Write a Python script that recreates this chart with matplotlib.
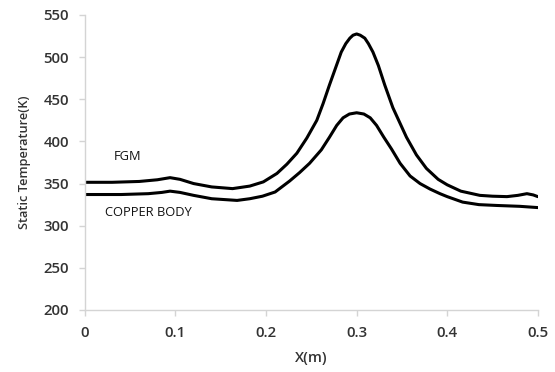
import matplotlib
matplotlib.use("Agg")
import matplotlib.pyplot as plt

plt.rcParams['font.family'] = ['Open Sans', 'DejaVu Sans']

fgm_x = [0, 0.03, 0.06, 0.08, 0.094, 0.105, 0.12, 0.14, 0.163, 0.182, 0.197, 0.212,
         0.223, 0.234, 0.245, 0.256, 0.263, 0.27, 0.277, 0.283, 0.288, 0.2925, 0.296,
         0.3, 0.304, 0.309, 0.313, 0.318, 0.324, 0.331, 0.34, 0.355, 0.366, 0.377,
         0.39, 0.4, 0.415, 0.436, 0.45, 0.466, 0.478, 0.488, 0.495, 0.5]
fgm_t = [351.5, 351.5, 352.5, 354.5, 357, 355, 350, 346, 344, 347, 352, 362,
         373, 386, 404, 425, 445, 467, 488, 506, 516, 522.5, 526,
         527.5, 526, 522.5, 516, 506, 490, 467, 440, 405, 384, 368,
         355, 348.5, 341, 336, 335, 334.5, 336, 338, 336.5, 334.5]

cu_x = [0, 0.04, 0.07, 0.085, 0.094, 0.105, 0.12, 0.14, 0.168, 0.182, 0.196, 0.21,
        0.226, 0.237, 0.248, 0.261, 0.27, 0.278, 0.285, 0.292, 0.3, 0.308, 0.315,
        0.322, 0.33, 0.3385, 0.348, 0.359, 0.37, 0.381, 0.392, 0.4, 0.417, 0.435,
        0.455, 0.48, 0.5]
cu_t = [337, 337, 338, 339.5, 341, 339.5, 336, 332, 330, 332, 335, 340,
        353, 363, 374, 390, 405, 419, 428, 432.5, 434, 432.5, 428,
        419, 405, 391, 374, 359, 350, 343.5, 338, 334.5, 328, 325,
        324, 323, 321.5]

x_ticks = [0, 0.1, 0.2, 0.3, 0.4, 0.5]
x_tick_labels = ['0', '0.1', '0.2', '0.3', '0.4', '0.5']
y_ticks = [200, 250, 300, 350, 400, 450, 500, 550]

fig = plt.figure(figsize=(5.55, 3.72), dpi=100)
ax = fig.add_axes([0.153, 0.1667, 0.816, 0.793])

ax.plot(fgm_x, fgm_t, color='black', lw=2.2, solid_capstyle='round', solid_joinstyle='round')
ax.plot(cu_x, cu_t, color='black', lw=2.2, solid_capstyle='round', solid_joinstyle='round')

ax.set_xlim(0, 0.5)
ax.set_ylim(200, 550)
ax.set_xticks(x_ticks)
ax.set_xticklabels(x_tick_labels)
ax.set_yticks(y_ticks)

for s in ['top', 'right']:
    ax.spines[s].set_visible(False)
for s in ['left', 'bottom']:
    ax.spines[s].set_color('#d4d4d4')
    ax.spines[s].set_linewidth(1.0)
ax.tick_params(axis='both', colors='#d4d4d4', length=4.5, width=1,
               labelcolor='#333333', labelsize=10.8)
ax.tick_params(axis='x', pad=7)
ax.tick_params(axis='y', pad=7)
for lab in ax.get_xticklabels() + ax.get_yticklabels():
    lab.set_fontweight('semibold')

ax.set_xlabel('X(m)', fontsize=10.5, fontweight='semibold', color='#333333', labelpad=8)
ax.set_ylabel('Static Temperature(K)', fontsize=9.2, fontweight='semibold', color='#333333', labelpad=9)

ax.text(0.047, 382, 'FGM', fontsize=9.3, ha='center', va='center', color='#111111')
ax.text(0.070, 316, 'COPPER BODY', fontsize=9.3, ha='center', va='center', color='#111111')

fig.savefig('out.png', dpi=100)
